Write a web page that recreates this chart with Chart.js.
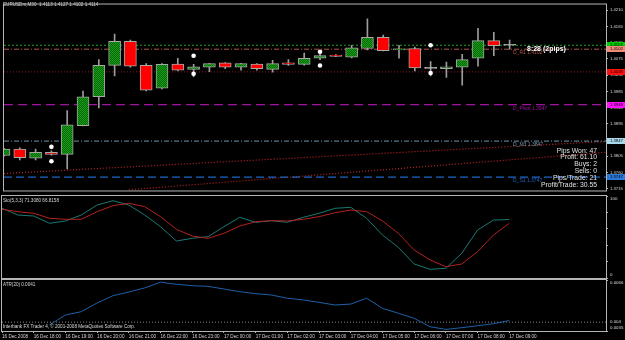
<!DOCTYPE html>
<html>
<head>
<meta charset="utf-8">
<script src="https://cdn.jsdelivr.net/npm/chart.js@4.4.1/dist/chart.umd.min.js"></script>
<style>
  html, body { margin: 0; padding: 0; background: #000; }
  #wrap { position: relative; width: 625px; height: 340px; background: #000; overflow: hidden; }
  canvas { position: absolute; left: 0; }
</style>
</head>
<body>
<div id="wrap">
  <canvas id="price_chart" width="625" height="195" style="top:0px"></canvas>
  <canvas id="sto_chart" width="625" height="84" style="top:195px"></canvas>
  <canvas id="atr_chart" width="625" height="61" style="top:279px"></canvas>
</div>
<script>
Chart.defaults.font.family = "'Liberation Sans', Arial, sans-serif";
Chart.defaults.color = '#d4d4d4';

// EURUSDm M30, bars 0..32 = 16 Dec 17:00 .. 17 Dec 09:00
const opens  = [1.3807,1.3825,1.3800,1.3816,1.3810,1.3890,1.3970,1.4057,1.4124,1.4057,1.3994,1.4061,1.4046,1.4052,1.4064,1.4052,1.4061,1.4046,1.4064,1.4060,1.4077,1.4086,1.4080,1.4104,1.4135,1.4100,1.4104,1.4049,1.4048,1.4052,1.4077,1.4126,1.4113];
const highs  = [1.3827,1.3828,1.3825,1.3820,1.3932,1.3986,1.4073,1.4144,1.4127,1.4062,1.4062,1.4077,1.4060,1.4063,1.4065,1.4063,1.4062,1.4071,1.4073,1.4091,1.4091,1.4087,1.4113,1.4186,1.4141,1.4113,1.4108,1.4068,1.4066,1.4088,1.4160,1.4149,1.4127];
const lows   = [1.3805,1.3795,1.3795,1.3808,1.3770,1.3889,1.3939,1.4028,1.4052,1.3986,1.3992,1.4042,1.4026,1.4040,1.4048,1.4044,1.4044,1.4038,1.4057,1.4058,1.4073,1.4081,1.4078,1.4100,1.4097,1.4077,1.4042,1.4028,1.4024,1.4002,1.4055,1.4084,1.4102];
const closes = [1.3825,1.3801,1.3816,1.3810,1.3892,1.3970,1.4057,1.4124,1.4055,1.3988,1.4060,1.4044,1.4053,1.4062,1.4052,1.4062,1.4048,1.4062,1.4060,1.4077,1.4084,1.4082,1.4106,1.4135,1.4098,1.4102,1.4050,1.4049,1.4053,1.4073,1.4126,1.4112,1.4114];

const timeTickBars = [0,2,4,6,8,10,12,14,16,18,20,22,24,26,28,30,32];
const timeLabels = ['16 Dec 2008','16 Dec 18:00','16 Dec 19:00','16 Dec 20:00','16 Dec 21:00','16 Dec 22:00','16 Dec 23:00','17 Dec 00:00','17 Dec 01:00','17 Dec 02:00','17 Dec 03:00','17 Dec 04:00','17 Dec 05:00','17 Dec 06:00','17 Dec 07:00','17 Dec 08:00','17 Dec 09:00'];

const priceTicks = [1.3715,1.3760,1.3805,1.3850,1.3895,1.3940,1.3985,1.4030,1.4075,1.4120,1.4165,1.4210];

// horizontal levels (bid, daily pivot lines)
const levelValues = [1.4113, 1.4102, 1.4039, 1.3948, 1.3847, 1.3747];
const levelTags   = ['', 'D_R1 1.4102', '', 'D_Pivot 1.3947', 'D_M3 1.3847', 'D_S1 1.3747'];

// two dotted channel lines: [bar, price] end points
const trendA = [[0, 1.3757], [38.1, 1.3846]];
const trendB = [[7.9, 1.3712], [38.1, 1.3816]];

// white fractal marks
const fractalBars = [3, 12, 20, 27];
const fractalUp   = [1.3831, 1.4084, 1.4095, 1.4113];
const fractalDown = [1.3791, 1.4034, 1.4057, 1.4036];

const statLines = ['Pips Won: 47', 'Profit: 61.10', 'Buys: 2', 'Sells: 0', 'Pips/Trade: 21', 'Profit/Trade: 30.55'];

// Stochastic(5,3,3)
const stoMain   = [85.0,76.8,75.6,66.7,69.5,76.8,89.0,94.3,89.0,76.8,62.6,45.1,48.4,50.4,62.6,74.0,67.9,69.9,67.9,74.0,78.9,85.0,86.2,72.8,52.4,37.4,17.1,10.6,11.8,30.1,58.5,70.7,71.3];
const stoSignal = [83.8,80.9,78.9,72.8,71.6,71.6,80.9,88.2,91.1,87.0,74.8,59.4,51.2,48.4,54.5,63.4,68.7,69.9,69.5,71.6,74.8,79.6,82.9,80.9,69.5,54.5,34.1,22.0,13.8,17.1,32.1,52.4,66.8];

// ATR(20)
const atrValues = [null,null,null,0.00382,0.00445,0.00466,0.00521,0.00567,0.00590,0.00616,0.00652,0.00639,0.00630,0.00626,0.00609,0.00592,0.00580,0.00571,0.00551,0.00540,0.00525,0.00508,0.00514,0.00551,0.00487,0.00456,0.00424,0.00371,0.00354,0.00365,0.00377,0.00390,0.0041];
const atrLevel = 0.004;

const xMin = 0, xMax = 38.1;

// styles
const levelColors = ['#1fa01f', '#b0574c', '#8e1a1a', '#a012a0', '#6f93a8', '#1f66c6'];
const levelDash   = [[2,2], [5,2,1,2], [1,2], [9,5], [5,2,1,2], [8,4]];
const boxColors   = ['#00d000', '#f28a7a', '#ff1010', '#ff10ff', '#a8d8ea', '#2a78d8'];

function makeBullPattern() {
    const c = document.createElement('canvas');
    c.width = 2; c.height = 2;
    const g = c.getContext('2d');
    g.fillStyle = '#006a00';
    g.fillRect(0, 0, 2, 2);
    g.fillStyle = '#1c9a1c';
    g.fillRect(0, 0, 1, 1);
    g.fillRect(1, 1, 1, 1);
    return g.createPattern(c, 'repeat');
}
const bullFill = makeBullPattern();

const isDoji = i => Math.abs(closes[i] - opens[i]) < 0.00015;
const bodyColors  = opens.map((o, i) => isDoji(i) ? '#b8b8b8' : (closes[i] > o ? bullFill : '#ff0000'));
const bodyBorders = opens.map((o, i) => isDoji(i) ? '#c8c8c8' : '#a8a8a8');

const toPts = (arr) => arr.map(p => ({x: p[0], y: p[1]}));

const paneFrame = {
    id: 'paneFrame',
    afterDraw(chart) {
        const {ctx, chartArea: a} = chart;
        ctx.save();
        ctx.strokeStyle = '#b4b4b4';
        ctx.lineWidth = 1;
        ctx.strokeRect(a.left - 0.5, a.top - 0.5, a.right - a.left + 1, a.bottom - a.top + 1);
        ctx.restore();
    }
};

// pane title, extra texts and right-side labels for the indicator panes
const paneInfo = {
    id: 'paneInfo',
    afterDraw(chart, args, opts) {
        const {ctx, chartArea: a} = chart;
        const ys = chart.scales.y;
        ctx.save();
        ctx.textBaseline = 'middle';
        ctx.fillStyle = '#dadada';
        ctx.font = "4.6px 'Liberation Sans'";
        (opts.texts || []).forEach(t => ctx.fillText(t[0], t[1], t[2]));
        ctx.font = "4.4px 'Liberation Sans'";
        (opts.labels || []).forEach(l => {
            let y = ys.getPixelForValue(l[0]);
            y = Math.min(Math.max(y, a.top + 3), a.bottom - 3);
            ctx.fillText(l[1], a.right + 4, y);
        });
        ctx.restore();
    }
};

const priceText = {
    id: 'priceText',
    afterDatasetsDraw(chart) {
        const {ctx} = chart;
        const ys = chart.scales.y;
        ctx.save();
        ctx.textBaseline = 'middle';
        ctx.fillStyle = '#dadada';
        ctx.font = "4.6px 'Liberation Sans'";
        ctx.fillText('EURUSDm,M30  1.4113 1.4127 1.4102 1.4114', 3, 5);

        ctx.font = "5px 'Liberation Sans'";
        levelTags.forEach((t, i) => {
            if (!t) return;
            ctx.fillStyle = levelColors[i];
            ctx.fillText(t, 513, ys.getPixelForValue(levelValues[i]) + 3.5);
        });

        ctx.fillStyle = '#ffffff';
        ctx.font = "bold 7px 'Liberation Sans'";
        ctx.fillText('8:28 (2pips)', 527, 49.5);

        ctx.fillStyle = '#e2e2e2';
        ctx.font = "6.8px 'Liberation Sans'";
        ctx.textAlign = 'right';
        statLines.forEach((s, i) => ctx.fillText(s, 597, 150.7 + i * 6.85));
        ctx.restore();
    },
    afterDraw(chart) {
        const {ctx, chartArea: a} = chart;
        const ys = chart.scales.y;
        ctx.save();
        ctx.textBaseline = 'middle';
        ctx.font = "4.2px 'Liberation Sans'";
        levelValues.forEach((v, i) => {
            const y = Math.round(ys.getPixelForValue(v));
            ctx.fillStyle = boxColors[i];
            ctx.fillRect(a.right + 1, y - 3, 19, 6);
            ctx.fillStyle = '#000';
            ctx.fillText(v.toFixed(4), a.right + 4, y + 0.3);
        });
        ctx.restore();
    }
};

const rightAxis = (extra) => Object.assign({
    position: 'right',
    afterFit: s => { s.width = 19; },
    grid: {drawOnChartArea: false, tickLength: 2, color: '#b4b4b4'},
    border: {color: '#b4b4b4'}
}, extra);

const priceChart = new Chart(document.getElementById('price_chart'), {
    type: 'bar',
    data: {
        datasets: [
            {
                type: 'line', data: fractalBars.map((b, i) => ({x: b, y: fractalUp[i]})).concat(fractalBars.map((b, i) => ({x: b, y: fractalDown[i]}))),
                showLine: false, pointRadius: 2.3, pointBackgroundColor: '#ffffff', pointBorderWidth: 0, order: 0
            },
            {
                type: 'bar', data: opens.map((o, i) => ({x: i, y: [o, closes[i]]})),
                backgroundColor: bodyColors, borderColor: bodyBorders, borderWidth: 1, borderSkipped: false,
                barThickness: 12, minBarLength: 1, grouped: false, order: 1
            },
            {
                type: 'bar', data: lows.map((l, i) => ({x: i, y: [l, highs[i]]})),
                backgroundColor: '#9c9c9c', borderWidth: 0, barThickness: 1, grouped: false, order: 2
            },
            ...levelValues.map((v, i) => ({
                type: 'line', data: [{x: xMin, y: v}, {x: xMax, y: v}],
                borderColor: levelColors[i], borderDash: levelDash[i], borderWidth: (i === 3 || i === 5) ? 1.3 : 1,
                pointRadius: 0, order: 5
            })),
            {type: 'line', data: toPts(trendA), borderColor: '#c02424', borderDash: [1, 2], borderWidth: 1.2, pointRadius: 0, order: 6},
            {type: 'line', data: toPts(trendB), borderColor: '#c02424', borderDash: [1, 2], borderWidth: 1.2, pointRadius: 0, order: 6}
        ]
    },
    options: {
        responsive: false,
        animation: false,
        layout: {padding: {left: 2, top: 1, bottom: 1, right: 0}},
        plugins: {legend: {display: false}, tooltip: {enabled: false}},
        scales: {
            x: {type: 'linear', min: xMin, max: xMax, offset: false, display: false},
            y: rightAxis({
                min: 1.3710, max: 1.4226,
                afterBuildTicks: s => { s.ticks = priceTicks.map(v => ({value: v})); },
                ticks: {font: {size: 4.2}, color: '#d8d8d8', padding: 2, callback: v => v.toFixed(4)}
            })
        }
    },
    plugins: [paneFrame, priceText]
});

const stoChart = new Chart(document.getElementById('sto_chart'), {
    type: 'line',
    data: {
        datasets: [
            {data: stoSignal.map((v, i) => ({x: i, y: v})), borderColor: '#b3221e', borderWidth: 1, pointRadius: 0},
            {data: stoMain.map((v, i) => ({x: i, y: v})), borderColor: '#1c7872', borderWidth: 1, pointRadius: 0}
        ]
    },
    options: {
        responsive: false,
        animation: false,
        layout: {padding: {left: 2, top: 1, bottom: 1, right: 0}},
        plugins: {
            legend: {display: false}, tooltip: {enabled: false},
            paneInfo: {texts: [['Sto(5,3,3) 71.3080 66.8158', 3, 5.5]], labels: [[100, '100'], [0, '0']]}
        },
        scales: {
            x: {type: 'linear', min: xMin, max: xMax, display: false},
            y: rightAxis({min: 0, max: 100, ticks: {display: false}})
        }
    },
    plugins: [paneFrame, paneInfo]
});

const atrChart = new Chart(document.getElementById('atr_chart'), {
    type: 'line',
    data: {
        datasets: [
            {data: atrValues.map((v, i) => ({x: i, y: v})), borderColor: '#1f60a8', borderWidth: 1, pointRadius: 0, spanGaps: false},
            {data: [{x: xMin, y: atrLevel}, {x: xMax, y: atrLevel}], borderColor: '#8a8a8a', borderDash: [1, 2], borderWidth: 1, pointRadius: 0}
        ]
    },
    options: {
        responsive: false,
        animation: false,
        layout: {padding: {left: 2, top: 1, bottom: 0, right: 0}},
        plugins: {
            legend: {display: false}, tooltip: {enabled: false},
            paneInfo: {
                texts: [['ATR(20) 0.0041', 3, 6], ['Interbank FX Trader 4, \u00a9 2001-2008 MetaQuotes Software Corp.', 3, 48]],
                labels: [[0.0066, '0.0066'], [0.004, '0.004'], [0.0035, '0.0035']]
            }
        },
        scales: {
            x: {
                type: 'linear', min: xMin, max: xMax, offset: false, position: 'bottom',
                afterBuildTicks: s => { s.ticks = timeTickBars.map(v => ({value: v})); },
                afterFit: s => { s.height = 9; },
                ticks: {
                    autoSkip: false, maxRotation: 0, minRotation: 0, align: 'start', padding: 1,
                    font: {size: 4.6}, color: '#d4d4d4',
                    callback: v => timeLabels[timeTickBars.indexOf(v)]
                },
                grid: {drawOnChartArea: false, tickLength: 2, color: '#b4b4b4'},
                border: {color: '#b4b4b4'}
            },
            y: rightAxis({min: 0.00344, max: 0.00666, ticks: {display: false}})
        }
    },
    plugins: [paneFrame, paneInfo]
});
</script>
</body>
</html>
